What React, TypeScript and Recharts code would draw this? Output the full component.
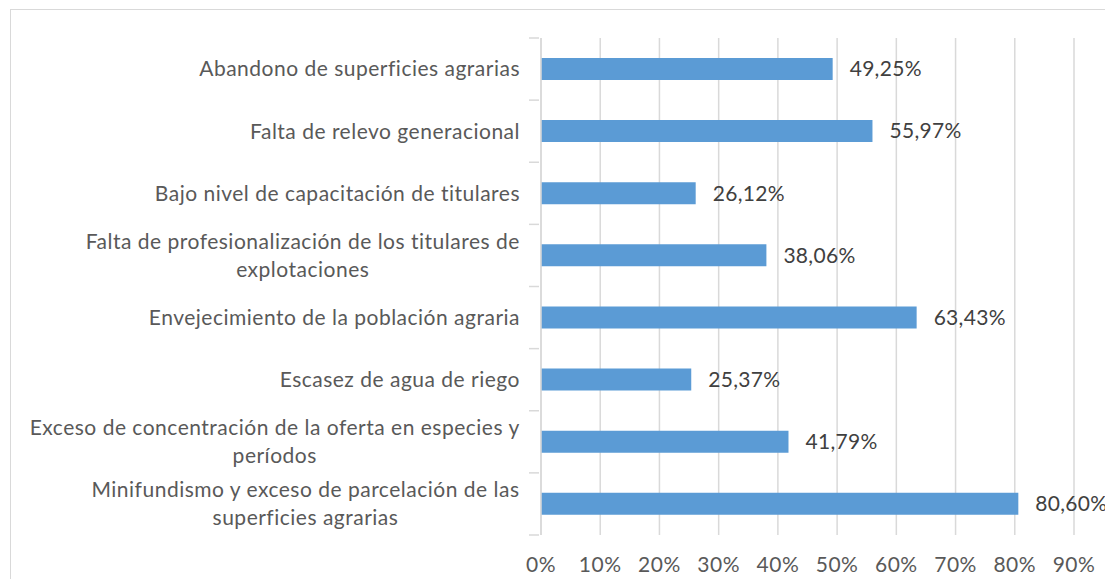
import React from "react";
import { BarChart, Bar, XAxis, YAxis, CartesianGrid, LabelList } from "recharts";

const categories = [
  "Abandono de superficies agrarias",
  "Falta de relevo generacional",
  "Bajo nivel de capacitación de titulares",
  "Falta de profesionalización de los titulares de explotaciones",
  "Envejecimiento de la población agraria",
  "Escasez de agua de riego",
  "Exceso de concentración de la oferta en especies y períodos",
  "Minifundismo y exceso de parcelación de las superficies agrarias",
];
const categoryLines: string[][] = [
  ["Abandono de superficies agrarias"],
  ["Falta de relevo generacional"],
  ["Bajo nivel de capacitación de titulares"],
  ["Falta de profesionalización de los titulares de", "explotaciones"],
  ["Envejecimiento de la población agraria"],
  ["Escasez de agua de riego"],
  ["Exceso de concentración de la oferta en especies y", "períodos"],
  ["Minifundismo y exceso de parcelación de las", "superficies agrarias"],
];
const values = [49.25, 55.97, 26.12, 38.06, 63.43, 25.37, 41.79, 80.6];
const xTicks = [0, 10, 20, 30, 40, 50, 60, 70, 80, 90];

const data = categories.map((c, i) => ({ name: c, value: values[i] }));

const FONT = "Lato, 'Open Sans', sans-serif";
const FS = 21;
const LS = 0.5;

let ctx: CanvasRenderingContext2D | null = null;
function measure(t: string): number {
  if (!ctx) {
    const c = document.createElement("canvas");
    ctx = c.getContext("2d");
  }
  if (!ctx) return t.length * 9;
  ctx.font = `${FS}px ${FONT}`;
  return ctx.measureText(t).width + LS * t.length;
}

const W = 1100;
const H = 569;
const M = { top: 28, right: 37, bottom: 4, left: 0 };
const X_AXIS_H = 40;
const PLOT_H = H - M.top - M.bottom - X_AXIS_H;

const YTick = (props: any) => {
  const { x, y, payload, index } = props;
  const idx = categories.indexOf(payload.value);
  const lines = categoryLines[idx] || [payload.value];
  const band = PLOT_H / categories.length;
  const lh = 28;
  const right = x - 19;
  const maxW = Math.max(...lines.map(measure));
  const cx = right - maxW / 2;
  const startY = y - ((lines.length - 1) * lh) / 2;
  return (
    <g>
      <line x1={x - 10} x2={x} y1={y - band / 2} y2={y - band / 2} stroke="#d9d9d9" strokeWidth={1.5} />
      {index === categories.length - 1 && (
        <line x1={x - 10} x2={x} y1={y + band / 2} y2={y + band / 2} stroke="#d9d9d9" strokeWidth={1.5} />
      )}
      {lines.map((l, i) => (
        <text
          key={i}
          x={lines.length > 1 ? cx : right}
          y={startY + i * lh}
          dy="0.35em"
          textAnchor={lines.length > 1 ? "middle" : "end"}
          fill="#595959"
          fontSize={FS}
          fontFamily={FONT}
          letterSpacing={LS}
        >
          {l}
        </text>
      ))}
    </g>
  );
};

export default function App() {
  return (
    <div
      style={{
        width: W,
        height: H,
        borderTop: "1px solid #d9d9d9",
        borderLeft: "1px solid #d9d9d9",
        marginLeft: 2,
        marginTop: 1,
        background: "#fff",
      }}
    >
      <style>{`html,body{overflow:hidden;} .recharts-surface{overflow:visible !important;} .recharts-wrapper{overflow:visible !important;}`}</style>
      <BarChart width={W} height={H} data={data} layout="vertical" margin={M} barCategoryGap="32%">
        <CartesianGrid horizontal={false} stroke="#d9d9d9" strokeWidth={1.5} />
        <XAxis
          type="number"
          domain={[0, 90]}
          ticks={xTicks}
          tickFormatter={(v: number) => `${v}%`}
          axisLine={false}
          tickLine={false}
          tickSize={0}
          tickMargin={22}
          height={X_AXIS_H}
          tick={{ fill: "#595959", fontSize: FS, fontFamily: FONT, letterSpacing: LS }}
          interval={0}
        />
        <YAxis
          type="category"
          dataKey="name"
          width={530}
          axisLine={{ stroke: "#d9d9d9", strokeWidth: 1.5 }}
          tickLine={false}
          tickSize={0}
          tick={<YTick />}
          interval={0}
        />
        <Bar dataKey="value" fill="#5B9BD5" isAnimationActive={false}>
          <LabelList
            dataKey="value"
            position="right"
            offset={17}
            formatter={(v: number) => `${v.toFixed(2).replace(".", ",")}%`}
            fill="#404040"
            fontSize={FS}
            fontFamily={FONT}
            letterSpacing={0.3}
          />
        </Bar>
      </BarChart>
    </div>
  );
}
